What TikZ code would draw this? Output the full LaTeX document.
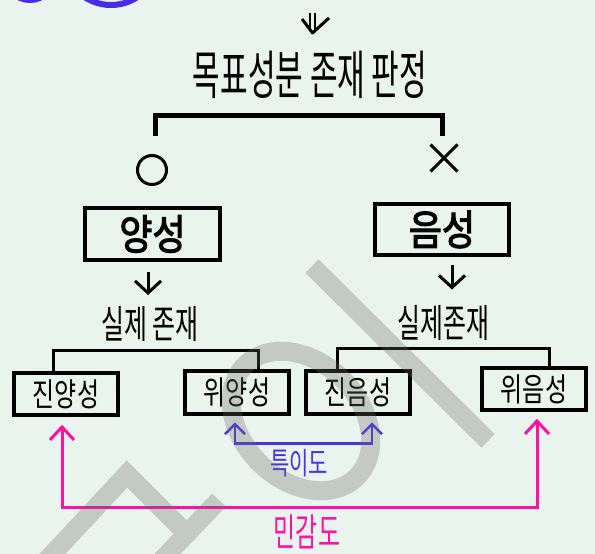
\documentclass[tikz,border=0pt]{standalone}
\usepackage{fontspec}
\usepackage{graphicx}
\usetikzlibrary{arrows.meta,shapes.misc,calc}
\newfontfamily\kr[AutoFakeBold=3]{Noto Sans CJK KR}
\definecolor{bg}{RGB}{234,244,239}
\definecolor{bl}{RGB}{72,52,226}
\definecolor{pk}{RGB}{255,16,160}
\definecolor{wmk}{RGB}{105,108,104}
\definecolor{pu}{RGB}{72,44,230}
\newcommand{\hw}[3]{\fontsize{#1}{#1}\selectfont\scalebox{1}[#2]{#3}}
\begin{document}
\begin{tikzpicture}[x=1pt,y=-1pt,
  txt/.style={inner sep=0pt, font=\kr},
  bigbox/.style={draw, line width=4pt, minimum width=135pt, minimum height=52pt, inner sep=0pt, font=\kr\bfseries},
  smallbox/.style={draw, line width=3.5pt, minimum width=104pt, minimum height=42pt, inner sep=0pt, font=\kr},
  brk/.style={line width=3pt, line cap=butt},
  topbrk/.style={line width=5pt, line cap=butt},
  darr/.style={line width=3pt, -{Straight Barb[length=12pt,width=26pt]}},
  barr/.style={bl, line width=2.5pt, {Straight Barb[length=10pt,width=20pt]}-{Straight Barb[length=10pt,width=20pt]}},
  parr/.style={pk, line width=3pt, {Straight Barb[length=13pt,width=24pt]}-{Straight Barb[length=13pt,width=24pt]}},
  wmark/.style={wmk, opacity=0.3, line width=19pt, line cap=butt},
  deco/.style={pu, line width=6pt}
]
\useasboundingbox (0,0) rectangle (595,554);
\fill[bg] (0,0) rectangle (595,554);

% decorative circles at the top left
\draw[deco] (30,-25) circle [radius=25];
\draw[deco] (111,-43) circle [radius=48];

% double-shaft arrow at top
\coordinate (da1) at (310,13);
\coordinate (da2) at (315,13);
\draw[line width=2.5pt] (da1) -- ++(0,18) (da2) -- ++(0,18);
\draw[line width=3pt, line join=round] (302,19) -- (312.5,33) -- (329,18);

% title
\node[txt] (title) at (310,75) {\hw{30}{1.75}{목표성분 존재 판정}};

% top bracket
\coordinate (tl) at (155,136);
\coordinate (tr) at (442,136);
\draw[topbrk] (tl) -- ++(0,-21) -| (tr);

% O and X
\node[draw, circle, line width=3pt, minimum size=29pt, inner sep=0pt] (o) at (152,170) {};
\node[draw, cross out, line width=3pt, minimum size=24pt, inner sep=0pt] (xx) at (444,158) {};

% positive / negative boxes
\node[bigbox] (yang) at (152.5,234) {\hw{36}{1.15}{양성}};
\node[bigbox, minimum width=134pt, minimum height=51pt] (eum) at (442,229.5) {\hw{36}{1.15}{음성}};

% arrows down
\draw[darr] ($(yang.south)+(-4.5,10)$) -- ($(yang.south)+(-4.5,33)$);
\draw[darr] ($(eum.south)+(10,7.5)$) -- ($(eum.south)+(10,32.5)$);

% labels
\node[txt] (sil1) at (150,324) {\hw{25}{1.55}{실제 존재}};
\node[txt] (sil2) at (443,323) {\hw{25}{1.55}{실제존재}};

% small boxes
\node[smallbox] (jy) at (66,394) {\hw{24}{1.35}{진양성}};
\node[smallbox, minimum height=43pt] (wy) at (237,392.5) {\hw{24}{1.35}{위양성}};
\node[smallbox, minimum height=43pt] (jm) at (358,392.5) {\hw{24}{1.35}{진음성}};
\node[smallbox] (wm) at (534,389) {\hw{24}{1.35}{위음성}};

% sub brackets
\coordinate (l1) at (53,372);
\coordinate (l2) at (258,371);
\draw[brk] (l1) -- (53,350) -- (258,350) -- (l2);
\coordinate (r1) at (337,370);
\coordinate (r2) at (549,367);
\draw[brk] (r1) -- (337,348) -- (549,348) -- (r2);

% specificity
\draw[barr] ($(wy.south)+(-2,6.5)$) |- ($(jm.south)+(14,27.5)$) -- ($(jm.south)+(14,6.5)$);
\node[txt, text=bl] (spec) at (299,463) {\hw{21}{1.45}{특이도}};

% sensitivity
\draw[parr] ($(jy.south)+(-4,8)$) |- ($(wm.south)+(3,96)$) -- ($(wm.south)+(3,7)$);
\node[txt, text=pk] (sens) at (307,532) {\hw{24}{1.6}{민감도}};

% watermark overlay
\draw[wmark] (312,266) -- (488,441)
  (45,562) -- (127,474) -- (186,533)
  (219,500) -- (160,562)
  (301,421) circle [x radius=79, y radius=59, rotate=-45];
\end{tikzpicture}
\end{document}
